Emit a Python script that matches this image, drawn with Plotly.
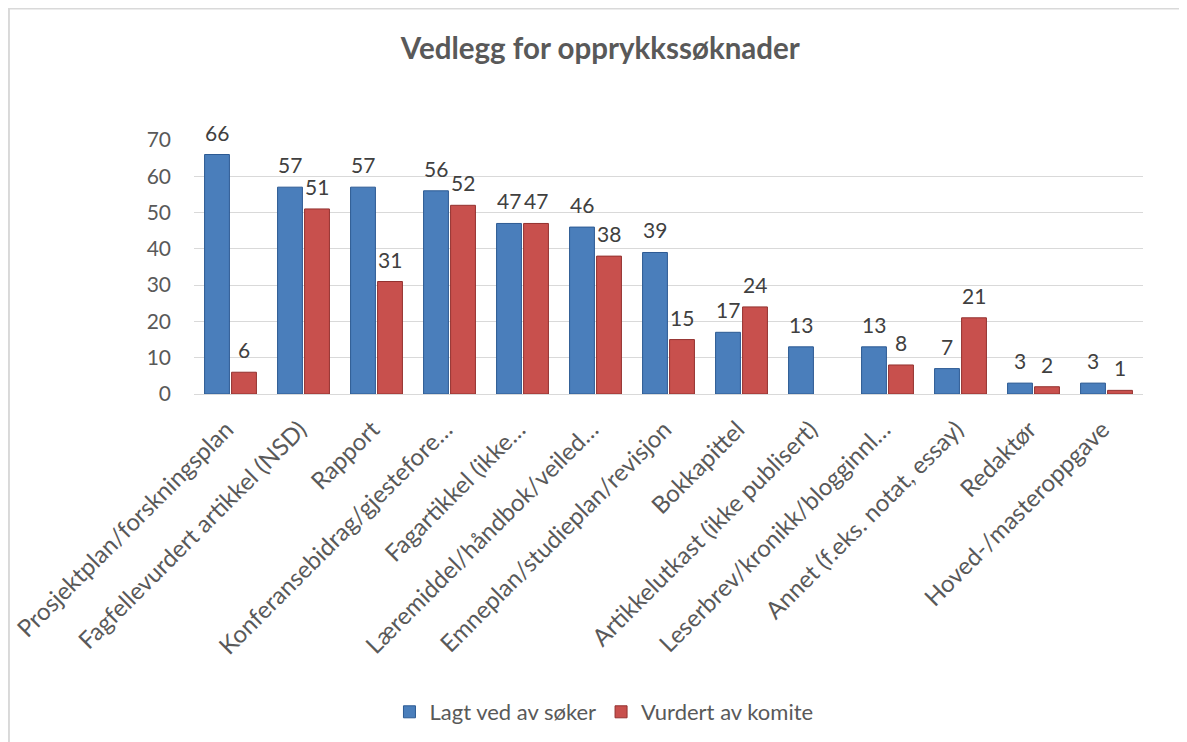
import plotly.graph_objects as go

categories = [
    "Prosjektplan/forskningsplan",
    "Fagfellevurdert artikkel (NSD)",
    "Rapport",
    "Konferansebidrag/gjestefore…",
    "Fagartikkel (ikke…",
    "Læremiddel/håndbok/veiled…",
    "Emneplan/studieplan/revisjon",
    "Bokkapittel",
    "Artikkelutkast (ikke publisert)",
    "Leserbrev/kronikk/blogginnl…",
    "Annet (f.eks. notat, essay)",
    "Redaktør",
    "Hoved-/masteroppgave",
]
lagt_ved = [66, 57, 57, 56, 47, 46, 39, 17, 13, 13, 7, 3, 3]
vurdert = [6, 51, 31, 52, 47, 38, 15, 24, None, 8, 21, 2, 1]
series_names = ["Lagt ved av søker", "Vurdert av komite"]
y_ticks = [0, 10, 20, 30, 40, 50, 60, 70]

FONT = "Lato"
GREY = "#595959"
BARGAP = 0.26
GROUPGAP = 0.08

fig = go.Figure()
fig.add_trace(go.Bar(
    x=categories, y=lagt_ved, name=series_names[0],
    marker=dict(color="#4A7EBB", line=dict(color="#2C5A93", width=1)),
))
fig.add_trace(go.Bar(
    x=categories, y=vurdert, name=series_names[1],
    marker=dict(color="#C8504D", line=dict(color="#93312F", width=1)),
))

# value labels placed above each bar via the axis scales
half = (1 - BARGAP) / 4
annotations = []
for i, (a, b) in enumerate(zip(lagt_ved, vurdert)):
    for off, v in ((-half, a), (half, b)):
        if v is None:
            continue
        annotations.append(dict(x=i + off, y=v, xref="x", yref="y", text=str(v),
                                showarrow=False, yanchor="bottom", yshift=8,
                                font=dict(family=FONT, size=21, color="#404040")))

fig.update_layout(
    width=1187, height=742,
    paper_bgcolor="white", plot_bgcolor="white",
    margin=dict(l=186, r=52, t=132, b=356, autoexpand=False),
    barmode="group", bargap=BARGAP, bargroupgap=GROUPGAP,
    title=dict(text="<b>Vedlegg for opprykkssøknader</b>", x=0.499, xanchor="center",
               y=0.945, yanchor="middle",
               font=dict(family=FONT, size=29.5, color=GREY)),
    font=dict(family=FONT, color=GREY),
    showlegend=True,
    legend=dict(orientation="h", x=0.432, xanchor="center", y=-1.252, yanchor="middle",
                font=dict(family=FONT, size=22, color=GREY), itemwidth=30,
                traceorder="normal"),
    xaxis=dict(tickangle=-45, tickfont=dict(family=FONT, size=24, color=GREY),
               showline=True, linecolor="#D9D9D9", linewidth=1, ticks="", automargin=False,
               ticklabelstandoff=11, ticklabelshift=-4),
    yaxis=dict(range=[0, 70], tickvals=y_ticks, showgrid=True, gridcolor="#D9D9D9",
               zeroline=False, showline=False, automargin=False,
               tickfont=dict(family=FONT, size=21, color=GREY), ticklabelstandoff=22),
    annotations=annotations,
    shapes=[dict(type="rect", xref="paper", yref="paper",
                 x0=-0.195, x1=1.1, y0=-1.5, y1=1.518,
                 line=dict(color="#D9D9D9", width=2), fillcolor="rgba(0,0,0,0)", layer="below")],
)

fig.write_html("out.html")
